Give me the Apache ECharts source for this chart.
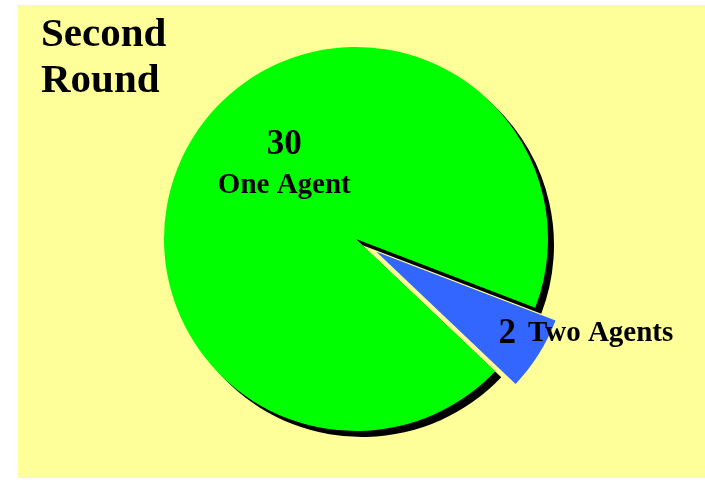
<!DOCTYPE html>
<html>
<head>
<meta charset="utf-8">
<script src="https://cdn.jsdelivr.net/npm/echarts@6/dist/echarts.min.js"></script>
<style>
  html, body { margin: 0; padding: 0; background: #ffffff; width: 705px; height: 482px; overflow: hidden; }
  #chart { position: absolute; left: 18px; top: 5px; width: 687px; height: 473px; background: #FFFF99; }
</style>
</head>
<body>
<div id="chart"></div>
<script>
const titleText = 'Second\nRound';
const categories = ['One Agent', 'Two Agents'];
const values = [30, 2];
const colors = ['#00FF00', '#3366FF'];

const chart = echarts.init(document.getElementById('chart'), null, { renderer: 'canvas' });
const FONT = '"Liberation Serif", "Times New Roman", serif';

const blueLabel = {
  position: 'inside',
  offset: [120, 16],
  formatter: '{v|{c}}{s| }{n|{b}}'
};

const dataItems = [
  {
    name: categories[0],
    value: values[0],
    itemStyle: {
      color: colors[0],
      shadowColor: '#000000',
      shadowBlur: 0,
      shadowOffsetX: 6,
      shadowOffsetY: 6
    },
    label: {
      position: 'inside',
      offset: [12, -21],
      formatter: '{v|{c}}\n{n|{b}}'
    }
  },
  {
    name: categories[1],
    value: values[1],
    selected: true,
    itemStyle: { color: colors[1] },
    label: blueLabel,
    select: { itemStyle: { color: colors[1], borderWidth: 0 }, label: blueLabel }
  }
];

chart.setOption({
  backgroundColor: 'transparent',
  animation: false,
  title: {
    text: titleText,
    left: 23,
    top: 7,
    padding: 0,
    textStyle: {
      fontFamily: FONT,
      fontWeight: 'bold',
      fontSize: 41,
      lineHeight: 46,
      color: '#000000'
    }
  },
  series: [{
    type: 'pie',
    center: [338, 234],
    radius: [0, 192],
    startAngle: 316.5,
    clockwise: true,
    selectedMode: 'single',
    selectedOffset: 24,
    avoidLabelOverlap: false,
    emphasis: { disabled: true },
    labelLine: { show: false },
    itemStyle: { borderWidth: 0 },
    label: {
      show: true,
      color: '#000000',
      fontFamily: FONT,
      fontWeight: 'bold',
      rich: {
        v: { fontFamily: FONT, fontWeight: 'bold', fontSize: 35, lineHeight: 41, color: '#000' },
        n: { fontFamily: FONT, fontWeight: 'bold', fontSize: 29, lineHeight: 41, color: '#000' },
        s: { fontFamily: FONT, fontSize: 14, width: 12 }
      }
    },
    data: dataItems
  }]
});
</script>
</body>
</html>
